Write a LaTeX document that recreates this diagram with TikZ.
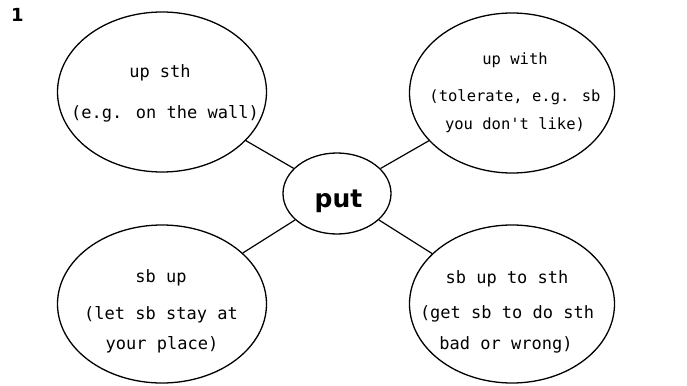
\documentclass[tikz,border=0pt]{standalone}
\usepackage{fontspec}
\setmainfont{DejaVu Sans}
\newfontfamily\handfont{DejaVu Sans Mono}
\usetikzlibrary{shapes.geometric}
\begin{document}
\begin{tikzpicture}[x=1pt,y=-1pt,
  bubble/.style={draw=black, line width=1.3pt, ellipse, inner sep=0pt},
  lbl/.style={font=\handfont\fontsize{17}{20}\selectfont, inner sep=0pt, anchor=center},
  lbls/.style={font=\handfont\fontsize{15.5}{18}\selectfont, inner sep=0pt, anchor=center},
  link/.style={draw=black, line width=1.2pt}]
\useasboundingbox[fill=white] (0,0) rectangle (687,385);

\node[font=\bfseries\fontsize{18}{20}\selectfont, anchor=base, inner sep=0pt] (num) at (17.5,22) {1};

\node[bubble, minimum width=209pt, minimum height=160pt] (tl) at (162,92) {};
\node[bubble, minimum width=205pt, minimum height=160pt] (tr) at (512,93) {};
\node[bubble, minimum width=209pt, minimum height=158pt] (bl) at (162,304) {};
\node[bubble, minimum width=205pt, minimum height=158pt] (br) at (512,304) {};
\node[bubble, minimum width=108pt, minimum height=81pt] (put) at (337,193.5) {};
\node[font=\bfseries\fontsize{25}{28}\selectfont, anchor=base, inner sep=0pt] (putw) at (338.5,207) {put};

\draw[link] (tl) -- (put);
\draw[link] (tr) -- (put);
\draw[link] (bl) -- (put);
\draw[link] (br) -- (put);

\node[lbl] (tl1) at (160,73) {up sth};
\node[lbl] (tl2) at (165,114) {(e.g. on the wall)};

\node[lbls] (tr1) at (515,60) {up with};
\node[lbls] (tr2) at (515,97) {(tolerate, e.g. sb};
\node[lbls] (tr3) at (515,125) {you don't like)};

\node[lbl] (bl1) at (161,278) {sb up};
\node[lbl] (bl2) at (161,315) {(let sb stay at};
\node[lbl] (bl3) at (162,345) {your place)};

\node[lbl] (br1) at (507,279) {sb up to sth};
\node[lbl] (br2) at (507,314) {(get sb to do sth};
\node[lbl] (br3) at (506,345) {bad or wrong)};
\end{tikzpicture}
\end{document}
